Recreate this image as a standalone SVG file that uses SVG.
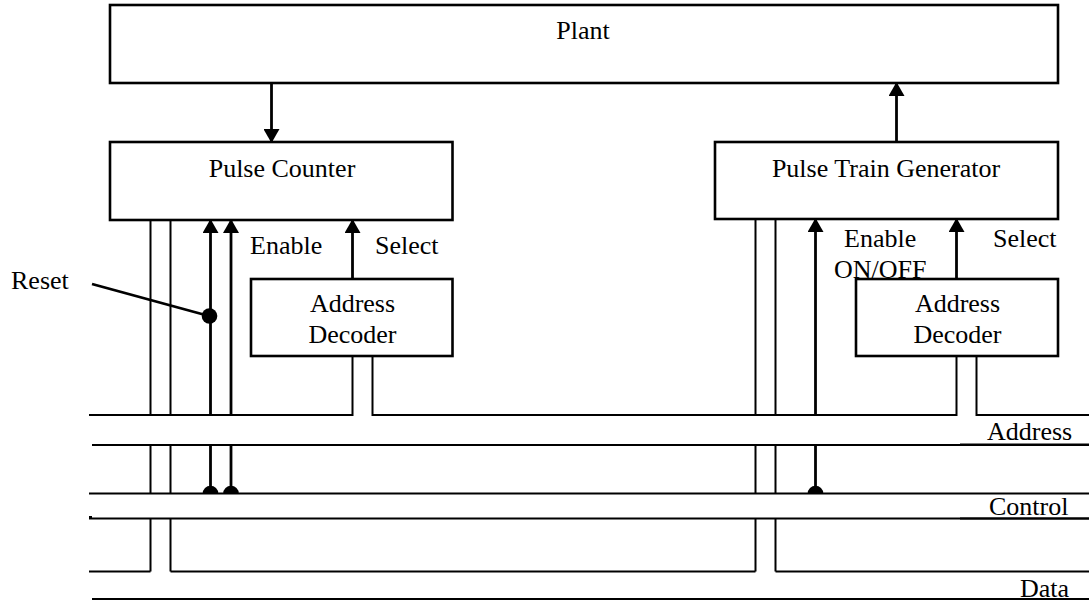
<svg xmlns="http://www.w3.org/2000/svg" width="1089" height="603" viewBox="0 0 1089 603">
  <style>
    .box { fill: #fff; stroke: #000; stroke-width: 2.6; }
    .lbl { font-family: "Liberation Serif", "Times New Roman", serif; font-size: 26px; fill: #000; }
    .mid { text-anchor: middle; }
    .bus { fill: none; stroke: #000; stroke-width: 2; }
    .sig { fill: none; stroke: #000; stroke-width: 2.8; }
    .arr { fill: none; stroke: #000; stroke-width: 2.8; marker-end: url(#head); }
  </style>
  <defs>
    <marker id="head" markerUnits="userSpaceOnUse" markerWidth="14" markerHeight="16" refX="13" refY="8" orient="auto" viewBox="0 0 14 16">
      <path d="M0,0 L14,8 L0,16 Z" fill="#000"/>
    </marker>
  </defs>

  <!-- system buses -->
  <g id="buses">
    <!-- address bus -->
    <path class="bus" d="M89,415 H352.5 V356"/>
    <path class="bus" d="M372.5,356 V415 H956.5 V356"/>
    <path class="bus" d="M976.5,356 V415 H1089"/>
    <path class="bus" d="M92,445 H1089"/>
    <path class="bus" d="M960,444.5 H1089" stroke-width="2.6"/>
    <!-- control bus -->
    <path class="bus" d="M89,493.5 H1089"/>
    <path class="bus" d="M89,518.5 H1089"/>
    <path class="bus" d="M960,518.5 H1089" stroke-width="2.6"/>
    <path d="M89,517.5 H92" stroke="#000" stroke-width="3"/>
    <!-- data bus -->
    <path class="bus" d="M89,571.5 H150.5"/>
    <path class="bus" d="M170.5,571.5 H755.5"/>
    <path class="bus" d="M775.5,571.5 H1089"/>
    <path class="bus" d="M92,599 H1089" stroke-width="2.4"/>
    <text class="lbl" x="987" y="440">Address</text>
    <text class="lbl" x="989" y="515">Control</text>
    <text class="lbl" x="1020" y="597">Data</text>
  </g>

  <!-- connectors -->
  <g id="connectors">
    <!-- plant signals -->
    <path class="arr" d="M271.5,83 V142"/>
    <path class="arr" d="M896.5,142 V83"/>

    <!-- pulse counter data channel -->
    <path class="bus" d="M150.5,220 V415 M150.5,445 V493.5 M150.5,518.5 V571.5"/>
    <path class="bus" d="M170.5,220 V415 M170.5,445 V493.5 M170.5,518.5 V571.5"/>
    <!-- pulse counter control lines -->
    <path class="arr" d="M210.5,415 V220"/>
    <path class="sig" d="M210.5,445 V493"/>
    <path class="arr" d="M231,415 V220"/>
    <path class="sig" d="M231,445 V493"/>
    <path d="M202.7,493.5 A7.8,7.8 0 0 1 218.3,493.5 Z" fill="#000"/>
    <path d="M223.2,493.5 A7.8,7.8 0 0 1 238.8,493.5 Z" fill="#000"/>
    <!-- reset -->
    <path class="sig" d="M92,284 L209,316"/>
    <circle cx="209.5" cy="316" r="7.8" fill="#000"/>
    <text class="lbl" x="11" y="289">Reset</text>
    <!-- enable / select on the counter -->
    <path class="arr" d="M352.5,279 V220"/>
    <text class="lbl" x="250" y="254">Enable</text>
    <text class="lbl" x="375" y="254">Select</text>

    <!-- pulse train generator data channel -->
    <path class="bus" d="M755.5,219 V415 M755.5,445 V493.5 M755.5,518.5 V571.5"/>
    <path class="bus" d="M775.5,219 V415 M775.5,445 V493.5 M775.5,518.5 V571.5"/>
    <!-- enable on/off -->
    <path class="arr" d="M815.5,415 V219"/>
    <path class="sig" d="M815.5,445 V493"/>
    <path d="M807.7,493.5 A7.8,7.8 0 0 1 823.3,493.5 Z" fill="#000"/>
    <path class="arr" d="M956.5,279 V219"/>
    <text class="lbl" x="844" y="247">Enable</text>
    <text class="lbl" x="834" y="278">ON/OFF</text>
    <text class="lbl" x="993" y="247">Select</text>
  </g>

  <!-- function blocks -->
  <g id="plant">
    <rect class="box" x="110" y="5" width="948" height="78"/>
    <text class="lbl mid" x="583" y="39">Plant</text>
  </g>
  <g id="pulse-counter">
    <rect class="box" x="110" y="142" width="342.5" height="78"/>
    <text class="lbl mid" x="282" y="177">Pulse Counter</text>
  </g>
  <g id="pulse-train-generator">
    <rect class="box" x="715" y="142" width="343" height="77"/>
    <text class="lbl mid" x="886" y="177">Pulse Train Generator</text>
  </g>
  <g id="decoder-left">
    <rect class="box" x="251" y="279" width="201.5" height="77"/>
    <text class="lbl mid" x="352.5" y="312">Address</text>
    <text class="lbl mid" x="352.5" y="343">Decoder</text>
  </g>
  <g id="decoder-right">
    <rect class="box" x="856" y="279" width="202" height="77"/>
    <text class="lbl mid" x="957.5" y="312">Address</text>
    <text class="lbl mid" x="957.5" y="343">Decoder</text>
  </g>
</svg>
